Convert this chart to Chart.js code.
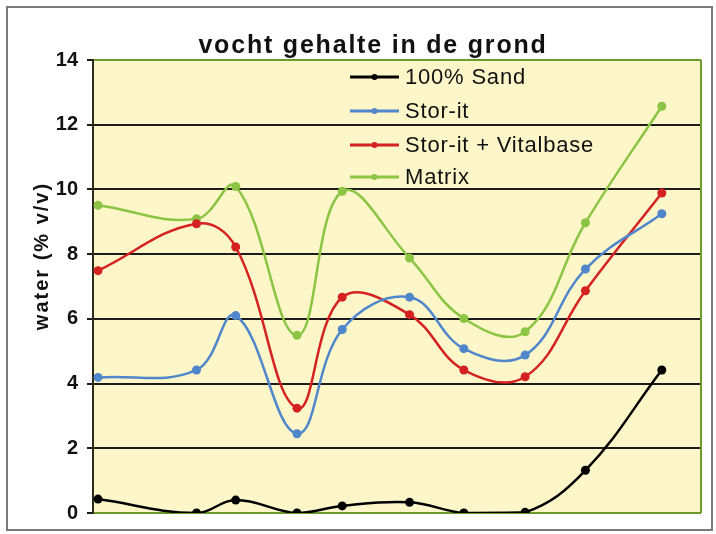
<!DOCTYPE html>
<html>
<head>
<meta charset="utf-8">
<script src="https://cdn.jsdelivr.net/npm/chart.js@4"></script>
<style>
  html, body { margin: 0; padding: 0; background: #fff; }
</style>
</head>
<body>
<canvas id="grafiek" width="716" height="534"></canvas>
<script>
// meetmomenten (positie langs de x-as, as zelf is niet gelabeld)
const meetmomenten = [1, 20.6, 28.4, 40.6, 49.6, 63, 73.8, 86, 98, 113.2]

const sand = [0.43, 0, 0.4, 0, 0.22, 0.33, 0, 0.02, 1.32, 4.42]
const storIt = [4.19, 4.42, 6.1, 2.45, 5.67, 6.67, 5.08, 4.88, 7.54, 9.25]
const storItVitalbase = [7.49, 8.94, 8.22, 3.24, 6.67, 6.13, 4.42, 4.21, 6.87, 9.89]
const matrix = [9.51, 9.09, 10.09, 5.49, 9.94, 7.88, 6.01, 5.6, 8.97, 12.57]

const yTicks = [0, 2, 4, 6, 8, 10, 12, 14]

const reeksNamen = ['100% Sand', 'Stor-it', 'Stor-it + Vitalbase', 'Matrix']
const kleuren = ['#000000', '#4f86cc', '#d42121', '#8cc443']

const punten = (waarden) => waarden.map((y, i) => ({ x: meetmomenten[i], y }))

// achtergrond, rand, titel en legenda
const opmaak = {
  id: 'opmaak',
  beforeDraw(chart) {
    const { ctx, chartArea: a } = chart
    ctx.save()
    ctx.fillStyle = '#fdf6c8'
    ctx.fillRect(a.left, a.top, a.right - a.left, a.bottom - a.top)
    ctx.restore()
  },
  afterDraw(chart) {
    const { ctx, chartArea: a } = chart
    ctx.save()
    // rechterrand plotvlak
    ctx.strokeStyle = '#6f9a2e'
    ctx.lineWidth = 2
    ctx.beginPath()
    ctx.moveTo(a.right, a.top)
    ctx.lineTo(a.right, a.bottom)
    ctx.stroke()

    // buitenrand
    ctx.strokeStyle = '#7a7a7a'
    ctx.lineWidth = 2
    ctx.strokeRect(7, 7, 705, 523)

    // titel
    ctx.fillStyle = '#111'
    ctx.font = 'bold 25px "Liberation Sans", Arial, sans-serif'
    ctx.letterSpacing = '1.8px'
    ctx.textAlign = 'center'
    ctx.textBaseline = 'alphabetic'
    ctx.fillText('vocht gehalte in de grond', 373, 53)

    // y-as titel
    ctx.save()
    ctx.translate(48, 256)
    ctx.rotate(-Math.PI / 2)
    ctx.font = 'bold 20px "Liberation Sans", Arial, sans-serif'
    ctx.letterSpacing = '2px'
    ctx.textAlign = 'center'
    ctx.fillText('water (% v/v)', 0, 0)
    ctx.restore()

    // legenda
    ctx.font = '22px "Liberation Sans", Arial, sans-serif'
    ctx.letterSpacing = '0.8px'
    ctx.textAlign = 'left'
    ctx.textBaseline = 'middle'
    const rijen = [77, 111, 145, 177]
    chart.data.datasets.forEach((ds, i) => {
      const y = rijen[i]
      ctx.strokeStyle = ds.borderColor
      ctx.lineWidth = 3
      ctx.beginPath()
      ctx.moveTo(350, y)
      ctx.lineTo(399, y)
      ctx.stroke()
      ctx.fillStyle = ds.borderColor
      ctx.beginPath()
      ctx.arc(374.5, y, 3, 0, Math.PI * 2)
      ctx.fill()
      ctx.fillStyle = '#111'
      ctx.fillText(ds.label, 405, y + 1)
    })
    ctx.restore()
  },
}

const ctx = document.getElementById('grafiek').getContext('2d')
const chart = new Chart(ctx, {
  type: 'line',
  data: {
    datasets: [sand, storIt, storItVitalbase, matrix].map((reeks, i) => ({
      label: reeksNamen[i],
      data: punten(reeks),
      borderColor: kleuren[i],
      backgroundColor: kleuren[i],
      borderWidth: 2.5,
      pointRadius: 4.5,
      pointBorderWidth: 0,
      tension: 0.4,
      fill: false,
    })),
  },
  options: {
    responsive: false,
    animation: false,
    layout: { padding: { top: 60, right: 15, bottom: 18, left: 0 } },
    plugins: {
      legend: { display: false },
      title: { display: false },
      tooltip: { enabled: false },
    },
    scales: {
      x: {
        type: 'linear',
        display: false,
        min: 0,
        max: 121,
      },
      y: {
        min: 0,
        max: 14,
        afterFit(scale) {
          scale.width = 93
        },
        afterBuildTicks(scale) {
          scale.ticks = yTicks.map((v) => ({ value: v }))
        },
        border: { display: true, color: '#2b2b1a', width: 2 },
        grid: {
          color: (c) =>
            c.tick && (c.tick.value === 0 || c.tick.value === 14) ? '#6f9a2e' : '#1c1c1c',
          tickColor: '#1c1c1c',
          lineWidth: 2,
          tickLength: 6,
        },
        ticks: {
          color: '#111',
          padding: 9,
          font: { family: '"Liberation Sans", Arial, sans-serif', size: 20, weight: 'bold' },
        },
      },
    },
  },
  plugins: [opmaak],
})
</script>
</body>
</html>
